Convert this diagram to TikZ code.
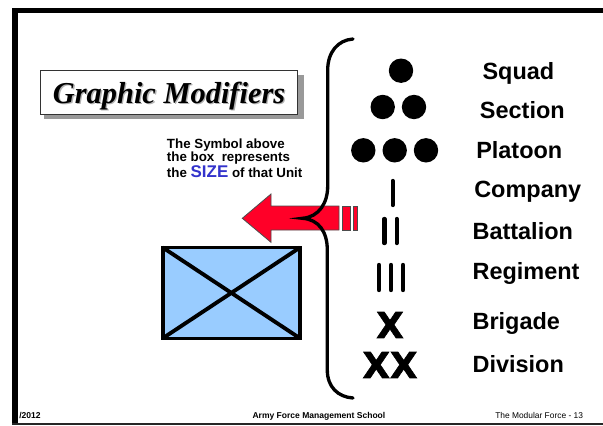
\documentclass[tikz,border=0pt]{standalone}
\usepackage{fontspec}
\setmainfont{Liberation Sans}
\newfontfamily\serifit{Liberation Serif}
\newfontfamily\heavy[BoldFeatures={FakeBold=1.6}]{DejaVu Sans}
\usetikzlibrary{shapes.geometric}
\definecolor{arrowred}{RGB}{255,0,40}
\definecolor{boxblue}{RGB}{153,204,255}
\definecolor{sizeblue}{RGB}{51,51,204}
\tikzset{x=0.75pt,y=-0.75pt,
 lab/.style={anchor=base west,inner sep=0pt,font=\fontsize{17.6}{17.6}\selectfont\bfseries},
 notetxt/.style={anchor=base west,inner sep=0pt,font=\fontsize{10}{10}\selectfont\bfseries},
 foot/.style={anchor=base west,inner sep=0pt,font=\fontsize{6.4}{6.4}\selectfont\bfseries},
 dot/.style={circle,fill=black,draw=none,minimum size=18.3pt,inner sep=0pt},
 bar/.style={line width=3.3pt,line cap=round},
 curly/.style={line width=2.5pt,line cap=round},
 unit/.style={draw=black,line width=2.7pt,fill=boxblue,line join=miter},
 redpart/.style={fill=arrowred,draw=black!70,line width=0.6pt},
 bigx/.style={inner sep=0pt,font=\fontsize{26.7}{26.7}\selectfont\heavy\bfseries}}
\begin{document}
\begin{tikzpicture}
\useasboundingbox (0,0) rectangle (603,425);
\fill[white] (0,0) rectangle (603,425);
% frame
\fill[black] (12.3,8) rectangle (603,13.3);
\fill[black] (12.3,8) rectangle (17.7,425);
\draw[black!85,line width=0.8pt] (12.3,424) -- (603,424);
% title
\fill[black!40] (44,75) rectangle (304,119.3);
\filldraw[draw=black!80,fill=white,line width=0.7pt] (40.3,70.7) rectangle (297.3,114.3);
\node[anchor=base west,inner sep=0pt,font=\fontsize{22.8}{22.8}\selectfont\serifit\bfseries\itshape,text=black!30] at (54,104) {Graphic Modifiers};
\node[anchor=base west,inner sep=0pt,font=\fontsize{22.8}{22.8}\selectfont\serifit\bfseries\itshape] (titletext) at (52.7,103) {Graphic Modifiers};
% note
\node[notetxt] (n1) at (166.7,148.3) {The Symbol above};
\node[notetxt] (n2) at (166.7,161.7) {the box\ \ represents};
\node[notetxt] (n3) at (166.7,177) {the \textcolor{sizeblue}{\fontsize{12.7}{12.7}\selectfont SIZE} of that Unit};
% arrow
\filldraw[redpart] (339,206) -- (271,206) -- (271,194) -- (242.3,218.3) -- (271,242.3) -- (271,230) -- (339,230) -- cycle;
\filldraw[redpart] (342.3,206) rectangle (350,230);
\filldraw[redpart] (353.3,206) rectangle (357.3,230);
% unit box
\draw[unit] (162.7,247.5) rectangle (300,338.3);
\draw[black,line width=2.9pt] (162.7,247.5) -- (300,338.3) (162.7,338.3) -- (300,247.5);
% brace
\draw[curly] (353,39) .. controls (338,40) and (327.7,52) .. (327.7,70) -- (327.7,186)
 .. controls (327.7,203) and (319,217) .. (302.5,218.3)
 .. controls (319,219.5) and (327.3,232) .. (327.3,250) -- (327.3,370)
 .. controls (327.3,387) and (338,397) .. (353,398);
% symbols
\node[dot] (s1) at (401,70.7) {};
\node[dot] (s2a) at (382.7,107) {};
\node[dot] (s2b) at (414,107) {};
\node[dot] (s3a) at (363.3,150.3) {};
\node[dot] (s3b) at (394.7,150.3) {};
\node[dot] (s3c) at (426,150.3) {};
\draw[bar] (392.7,181) -- (392.7,205);
\draw[bar] (384.3,219) -- (384.3,243);
\draw[bar] (396.7,219) -- (396.7,243);
\draw[bar] (379,265) -- (379,290);
\draw[bar] (391,265) -- (391,290);
\draw[bar] (403,265) -- (403,290);
\node[bigx] (x1) at (390,325) {X};
\node[bigx] (x2) at (390,365) {XX};
% labels
\node[lab] (squad) at (482.3,79.3) {Squad};
\node[lab] (section) at (479.7,118.3) {Section};
\node[lab] (platoon) at (476,158.3) {Platoon};
\node[lab] (company) at (474,197.3) {Company};
\node[lab] (battalion) at (472.3,239) {Battalion};
\node[lab] (regiment) at (472.3,279.3) {Regiment};
\node[lab] (brigade) at (472.3,329.3) {Brigade};
\node[lab] (division) at (472.3,372.7) {Division};
% footer
\node[foot] (date) at (19,418) {/2012};
\node[foot] (school) at (252.3,418) {Army Force Management School};
\node[anchor=base west,inner sep=0pt,font=\fontsize{6.3}{6.3}\selectfont] (mod) at (495,418) {The Modular Force - 13};
\end{tikzpicture}
\end{document}
